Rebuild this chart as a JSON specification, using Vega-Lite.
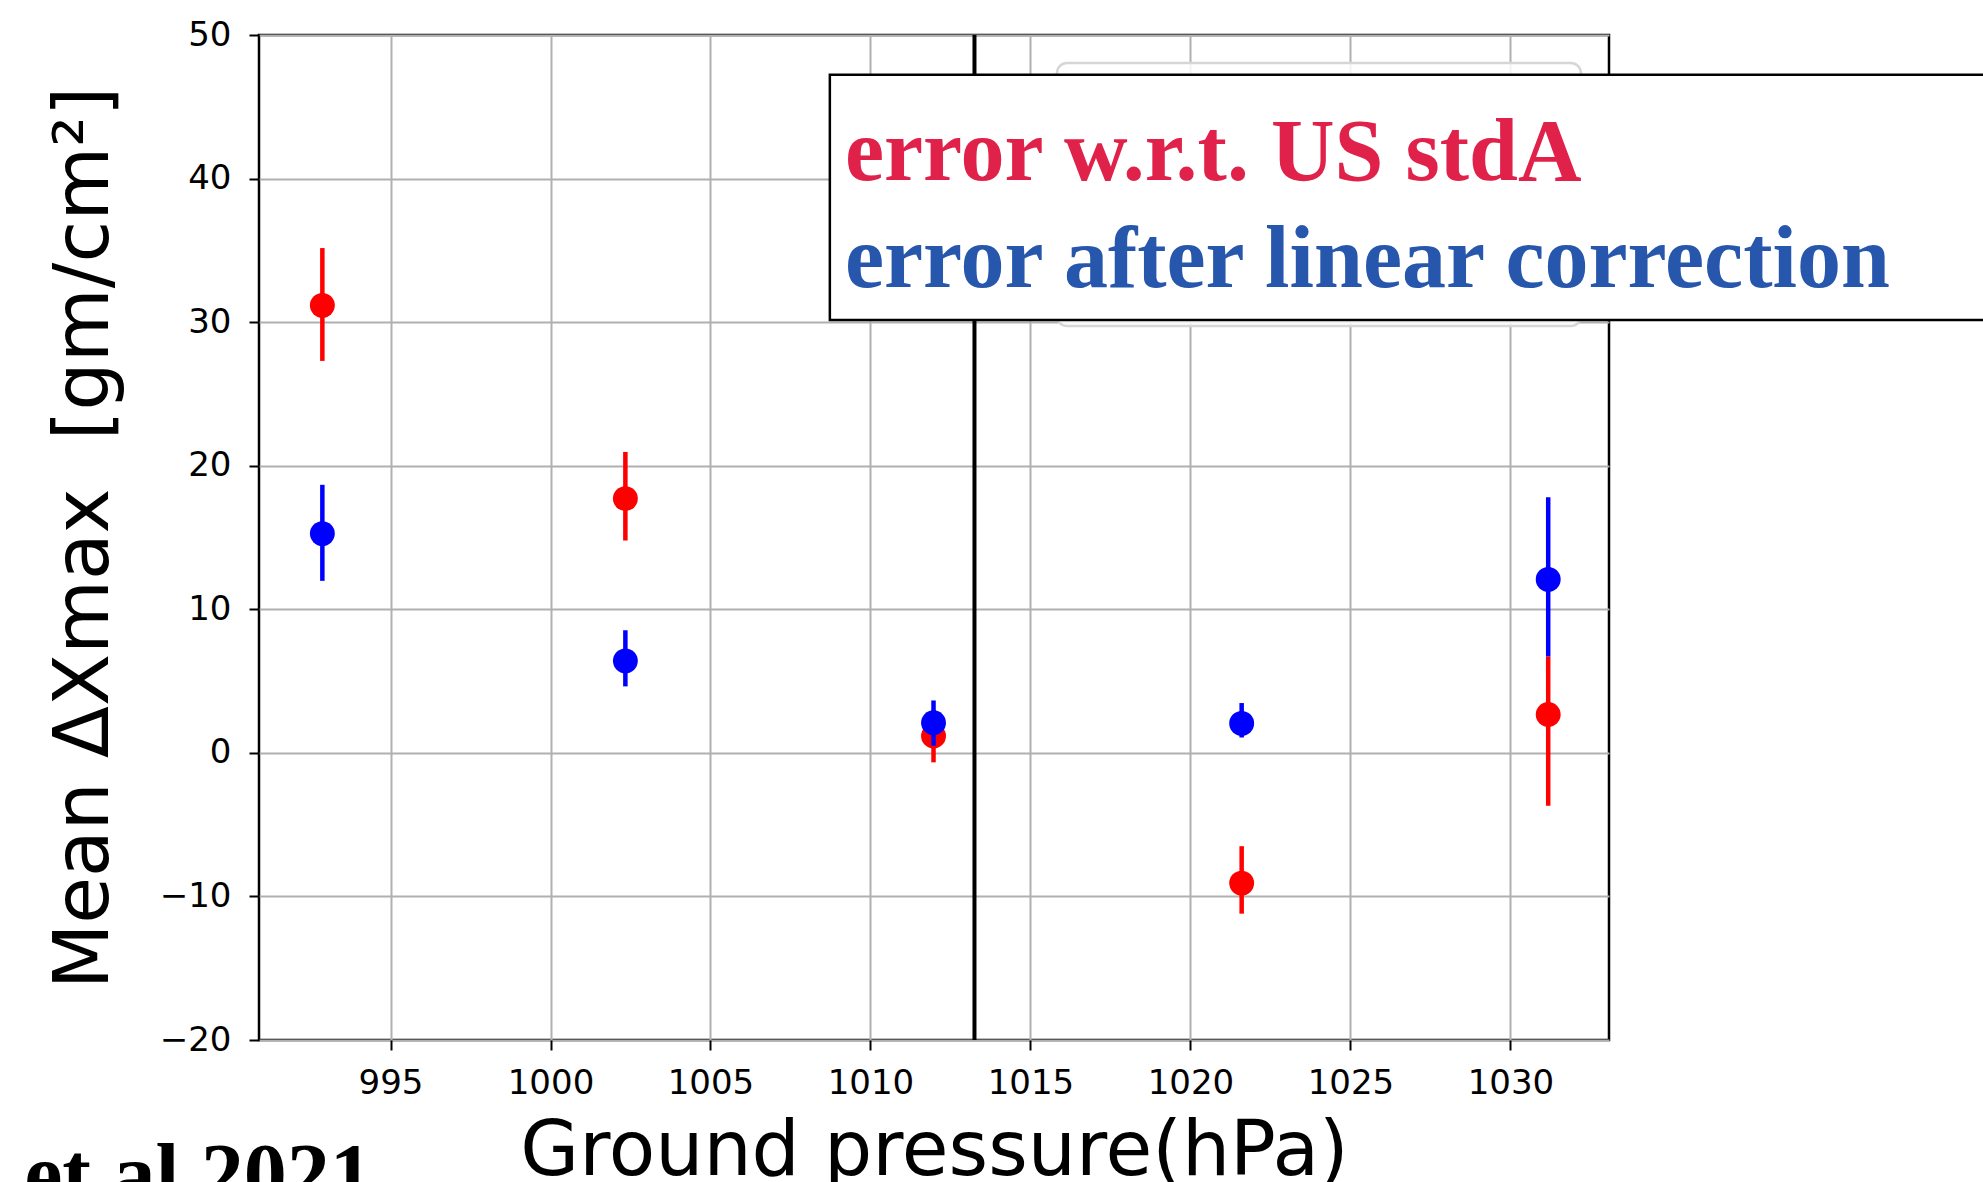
{
  "$schema": "https://vega.github.io/schema/vega-lite/v6.json",
  "width": 1350,
  "height": 1005,
  "autosize": {"type": "none"},
  "padding": {"left": 259, "top": 35, "right": 374, "bottom": 142},
  "background": "white",
  "config": {
    "view": {"stroke": "black", "strokeWidth": 2.5},
    "axis": {
      "domain": false,
      "grid": true,
      "gridColor": "#b0b0b0",
      "gridWidth": 2,
      "tickColor": "black",
      "tickWidth": 2,
      "tickSize": 10,
      "labelFont": "DejaVu Sans",
      "labelFontSize": 34,
      "labelColor": "black",
      "titleFont": "DejaVu Sans",
      "titleFontSize": 76,
      "titleFontWeight": "normal",
      "titleColor": "black"
    }
  },
  "datasets": {
    "red": [
      {"p": 992.87, "v": 31.17, "lo": 27.3, "hi": 35.16},
      {"p": 1002.34, "v": 17.71, "lo": 14.79, "hi": 20.96},
      {"p": 1011.97, "v": 1.17, "lo": -0.66, "hi": 3.0},
      {"p": 1021.6, "v": -9.07, "lo": -11.2, "hi": -6.5},
      {"p": 1031.18, "v": 2.67, "lo": -3.68, "hi": 6.72}
    ],
    "blue": [
      {"p": 992.87, "v": 15.27, "lo": 11.98, "hi": 18.67},
      {"p": 1002.34, "v": 6.41, "lo": 4.63, "hi": 8.54},
      {"p": 1011.97, "v": 2.1, "lo": 0.5, "hi": 3.65},
      {"p": 1021.6, "v": 2.05, "lo": 1.07, "hi": 3.47},
      {"p": 1031.18, "v": 12.08, "lo": 6.72, "hi": 17.8}
    ],
    "refline": [{"p": 1013.25}],
    "oldlegend": [{"p": 1015.83, "p2": 1032.2, "v": 48.05, "v2": 29.73}],
    "box": [{"p": 1008.73, "p2": 1052, "v": 47.24, "v2": 30.15}],
    "notes": [
      {"label": "error w.r.t. US stdA", "p": 1009.2, "v": 39.9, "kind": "std"},
      {"label": "error after linear correction", "p": 1009.2, "v": 32.45, "kind": "lin"}
    ],
    "cite": [{"label": "et al 2021", "p": 983.55, "v": -31.35}]
  },
  "layer": [
    {
      "data": {"name": "red"},
      "mark": {"type": "rule", "strokeWidth": 4.5, "color": "#ff0000"},
      "encoding": {
        "x": {"field": "p", "type": "quantitative",
              "scale": {"domain": [990.89, 1033.08], "nice": false, "zero": false},
              "axis": {"values": [995, 1000, 1005, 1010, 1015, 1020, 1025, 1030], "format": "d",
                       "labelPadding": 16, "titlePadding": 14},
              "title": "Ground pressure(hPa)"},
        "y": {"field": "lo", "type": "quantitative",
              "scale": {"domain": [-20, 50], "nice": false, "zero": false},
              "axis": {"values": [-20, -10, 0, 10, 20, 30, 40, 50], "format": "d",
                       "labelPadding": 18, "titlePadding": 36},
              "title": "Mean ΔXmax\u00a0\u00a0[gm/cm²]"},
        "y2": {"field": "hi"}
      }
    },
    {
      "data": {"name": "red"},
      "mark": {"type": "circle", "size": 620, "opacity": 1, "color": "#ff0000"},
      "encoding": {
        "x": {"field": "p", "type": "quantitative", "title": "Ground pressure(hPa)"},
        "y": {"field": "v", "type": "quantitative", "title": "Mean ΔXmax\u00a0\u00a0[gm/cm²]"}
      }
    },
    {
      "data": {"name": "blue"},
      "mark": {"type": "rule", "strokeWidth": 4.5, "color": "#0000ff"},
      "encoding": {
        "x": {"field": "p", "type": "quantitative", "title": "Ground pressure(hPa)"},
        "y": {"field": "lo", "type": "quantitative", "title": "Mean ΔXmax\u00a0\u00a0[gm/cm²]"},
        "y2": {"field": "hi"}
      }
    },
    {
      "data": {"name": "blue"},
      "mark": {"type": "circle", "size": 620, "opacity": 1, "color": "#0000ff"},
      "encoding": {
        "x": {"field": "p", "type": "quantitative", "title": "Ground pressure(hPa)"},
        "y": {"field": "v", "type": "quantitative", "title": "Mean ΔXmax\u00a0\u00a0[gm/cm²]"}
      }
    },
    {
      "data": {"name": "refline"},
      "mark": {"type": "rule", "strokeWidth": 4, "color": "black"},
      "encoding": {
        "x": {"field": "p", "type": "quantitative", "title": "Ground pressure(hPa)"}
      }
    },
    {
      "data": {"name": "oldlegend"},
      "mark": {"type": "rect", "fill": "white", "fillOpacity": 0.85, "stroke": "#d6d6d6", "strokeWidth": 2.5, "cornerRadius": 10},
      "encoding": {
        "x": {"field": "p", "type": "quantitative", "title": "Ground pressure(hPa)"},
        "x2": {"field": "p2"},
        "y": {"field": "v", "type": "quantitative", "title": "Mean ΔXmax\u00a0\u00a0[gm/cm²]"},
        "y2": {"field": "v2"}
      }
    },
    {
      "data": {"name": "box"},
      "mark": {"type": "rect", "fill": "white", "stroke": "black", "strokeWidth": 2.5},
      "encoding": {
        "x": {"field": "p", "type": "quantitative", "title": "Ground pressure(hPa)"},
        "x2": {"field": "p2"},
        "y": {"field": "v", "type": "quantitative", "title": "Mean ΔXmax\u00a0\u00a0[gm/cm²]"},
        "y2": {"field": "v2"}
      }
    },
    {
      "data": {"name": "notes"},
      "mark": {"type": "text", "align": "left", "baseline": "alphabetic", "font": "Liberation Serif", "fontWeight": "bold", "fontSize": 88},
      "encoding": {
        "x": {"field": "p", "type": "quantitative", "title": "Ground pressure(hPa)"},
        "y": {"field": "v", "type": "quantitative", "title": "Mean ΔXmax\u00a0\u00a0[gm/cm²]"},
        "text": {"field": "label"},
        "color": {"field": "kind", "type": "nominal", "legend": null,
                  "scale": {"domain": ["std", "lin"], "range": ["#e0224b", "#2757ad"]}}
      }
    },
    {
      "data": {"name": "cite"},
      "mark": {"type": "text", "align": "left", "baseline": "alphabetic", "font": "Liberation Serif", "fontWeight": "bold", "fontSize": 86, "color": "black"},
      "encoding": {
        "x": {"field": "p", "type": "quantitative", "title": "Ground pressure(hPa)"},
        "y": {"field": "v", "type": "quantitative", "title": "Mean ΔXmax\u00a0\u00a0[gm/cm²]"},
        "text": {"field": "label"}
      }
    }
  ]
}
